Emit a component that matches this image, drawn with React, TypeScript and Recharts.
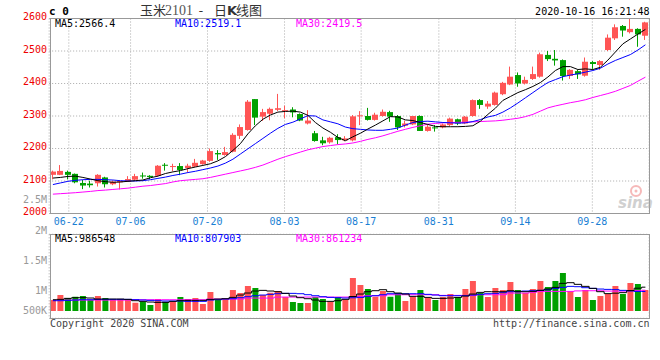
import { ComposedChart, Bar, Line, XAxis, YAxis, CartesianGrid, Cell } from 'recharts'

const RED = '#ff5555'
const GREEN = '#00a000'
const MONO = '"DejaVu Sans Mono", monospace'
const CJK = '"Noto Sans CJK SC", sans-serif'

const DATES = [
  '06-17', '06-18', '06-19', '06-22', '06-23', '06-24', '06-29', '06-30', '07-01', '07-02',
  '07-03', '07-06', '07-07', '07-08', '07-09', '07-10', '07-13', '07-14', '07-15', '07-16',
  '07-17', '07-20', '07-21', '07-22', '07-23', '07-24', '07-27', '07-28', '07-29', '07-30',
  '07-31', '08-03', '08-04', '08-05', '08-06', '08-07', '08-10', '08-11', '08-12', '08-13',
  '08-14', '08-17', '08-18', '08-19', '08-20', '08-21', '08-24', '08-25', '08-26', '08-27',
  '08-28', '08-31', '09-01', '09-02', '09-03', '09-04', '09-07', '09-08', '09-09', '09-10',
  '09-11', '09-14', '09-15', '09-16', '09-17', '09-18', '09-21', '09-22', '09-23', '09-24',
  '09-25', '09-28', '09-29', '09-30', '10-09', '10-12', '10-13', '10-14', '10-15', '10-16',
]

const OPEN = [
  2119, 2119, 2128, 2122, 2094, 2092, 2093, 2111, 2090, 2096,
  2098, 2104, 2117, 2116, 2116, 2150, 2143, 2146, 2140, 2144,
  2152, 2162, 2186, 2180, 2190, 2239, 2257, 2352, 2298, 2307,
  2319, 2315, 2320, 2306, 2277, 2247, 2225, 2219, 2235, 2225,
  2225, 2300, 2300, 2288, 2300, 2312, 2300, 2270, 2274, 2300,
  2254, 2265, 2265, 2272, 2290, 2277, 2300, 2349, 2329, 2334,
  2367, 2397, 2426, 2400, 2414, 2421, 2488, 2476, 2472, 2423,
  2438, 2424, 2466, 2457, 2503, 2539, 2577, 2558, 2568, 2547,
]
const HIGH = [
  2132, 2149, 2132, 2123, 2103, 2101, 2121, 2113, 2101, 2101,
  2115, 2122, 2126, 2118, 2149, 2155, 2153, 2155, 2153, 2168,
  2165, 2200, 2195, 2205, 2247, 2274, 2349, 2352, 2322, 2326,
  2368, 2332, 2327, 2308, 2318, 2254, 2236, 2236, 2244, 2238,
  2303, 2315, 2325, 2310, 2320, 2316, 2303, 2286, 2300, 2302,
  2272, 2272, 2277, 2295, 2292, 2300, 2351, 2352, 2346, 2375,
  2405, 2452, 2434, 2421, 2452, 2495, 2500, 2503, 2474, 2444,
  2442, 2480, 2469, 2472, 2551, 2582, 2580, 2600, 2570, 2590,
]
const LOW = [
  2105, 2118, 2105, 2093, 2075, 2080, 2083, 2080, 2087, 2074,
  2097, 2101, 2107, 2106, 2113, 2132, 2130, 2118, 2126, 2143,
  2150, 2159, 2165, 2178, 2188, 2229, 2255, 2272, 2285, 2287,
  2315, 2293, 2296, 2284, 2274, 2221, 2210, 2215, 2213, 2222,
  2222, 2272, 2286, 2286, 2298, 2282, 2257, 2265, 2272, 2254,
  2252, 2252, 2262, 2269, 2272, 2275, 2298, 2322, 2322, 2332,
  2364, 2395, 2390, 2397, 2411, 2418, 2469, 2455, 2409, 2414,
  2414, 2421, 2445, 2442, 2500, 2534, 2544, 2554, 2513, 2534,
]
const CLOSE = [
  2129, 2131, 2119, 2096, 2086, 2087, 2119, 2090, 2098, 2100,
  2106, 2115, 2114, 2112, 2147, 2147, 2146, 2134, 2147, 2156,
  2163, 2192, 2182, 2189, 2242, 2266, 2344, 2295, 2312, 2322,
  2324, 2318, 2311, 2286, 2286, 2223, 2216, 2233, 2226, 2231,
  2299, 2302, 2288, 2304, 2313, 2298, 2265, 2277, 2300, 2254,
  2267, 2262, 2274, 2292, 2277, 2298, 2349, 2334, 2338, 2372,
  2402, 2421, 2400, 2411, 2429, 2490, 2475, 2471, 2423, 2442,
  2428, 2467, 2460, 2469, 2541, 2573, 2563, 2568, 2551, 2588,
]

const MA5 = [
  2109, 2111, 2114, 2115, 2111, 2106, 2101, 2098, 2096, 2097,
  2099, 2101, 2103, 2110, 2115, 2123, 2128, 2132, 2138, 2143,
  2148, 2153, 2162, 2175, 2194, 2215, 2245, 2270, 2290, 2303,
  2312, 2314, 2315, 2312, 2302, 2280, 2263, 2250, 2234, 2224,
  2236, 2247, 2260, 2272, 2285, 2298, 2297, 2288, 2286, 2280,
  2274, 2268, 2267, 2267, 2267, 2268, 2270, 2284, 2305, 2324,
  2348, 2360, 2372, 2381, 2391, 2403, 2420, 2440, 2452, 2452,
  2443, 2445, 2443, 2450, 2472, 2497, 2522, 2537, 2552, 2566.4,
]
const MA10 = [
  2089, 2094, 2099, 2102, 2104, 2105, 2105, 2104, 2103, 2101,
  2100, 2100, 2101, 2104, 2108, 2112, 2117, 2121, 2126, 2130,
  2135, 2140, 2146, 2155, 2167, 2183, 2199, 2215, 2231, 2247,
  2262, 2274, 2281, 2291, 2301, 2300, 2288, 2282, 2276, 2266,
  2261, 2259, 2257, 2256, 2256, 2259, 2263, 2272, 2280, 2283,
  2284, 2282, 2280, 2279, 2278, 2279, 2283, 2289, 2297, 2302,
  2312, 2325, 2340, 2356, 2372, 2388, 2403, 2412, 2421, 2426,
  2430, 2435, 2440, 2447, 2460, 2471, 2480, 2489, 2503, 2519.1,
]
const MA30 = [
  2059.5, 2061, 2062.5, 2064, 2066, 2068, 2070.5, 2072, 2074, 2076,
  2078, 2081, 2084, 2086, 2089, 2092, 2097, 2101, 2103, 2105,
  2107, 2111, 2116, 2121, 2126, 2131, 2136, 2142, 2149, 2158,
  2167, 2175, 2182, 2189, 2196, 2201, 2206, 2209, 2212, 2214,
  2217, 2222, 2228, 2233, 2239, 2246, 2253, 2259, 2265, 2270,
  2275, 2277, 2279, 2280, 2280.5, 2281, 2282, 2283, 2284, 2285,
  2287, 2290, 2293, 2298, 2305, 2315, 2325, 2331, 2336, 2341,
  2345, 2350, 2357, 2363, 2369, 2376, 2385, 2394, 2407, 2419.5,
]

const VOLUME = [
  455000, 662000, 538000, 593000, 621000, 455000, 621000, 538000, 455000, 497000,
  455000, 345000, 386000, 248000, 497000, 386000, 386000, 580000, 497000, 538000,
  290000, 787000, 455000, 483000, 869000, 745000, 1035000, 952000, 662000, 759000,
  828000, 580000, 373000, 331000, 331000, 580000, 497000, 386000, 580000, 455000,
  1366000, 1076000, 911000, 593000, 828000, 593000, 745000, 414000, 580000, 869000,
  552000, 455000, 580000, 704000, 580000, 911000, 1242000, 745000, 580000, 952000,
  869000, 1201000, 869000, 745000, 911000, 1242000, 994000, 1242000, 1573000, 828000,
  580000, 869000, 455000, 621000, 704000, 1035000, 704000, 1159000, 1118000, 869000,
]
const VOL_MA5 = [
  468000, 482000, 523000, 551000, 551000, 537000, 495000, 495000, 495000, 495000,
  482000, 426000, 399000, 371000, 357000, 357000, 399000, 426000, 440000, 440000,
  440000, 482000, 495000, 509000, 564000, 661000, 744000, 827000, 854000, 827000,
  799000, 730000, 620000, 551000, 509000, 454000, 399000, 399000, 426000, 482000,
  600000, 702000, 799000, 840000, 882000, 799000, 744000, 702000, 606000, 606000,
  564000, 523000, 523000, 537000, 564000, 620000, 702000, 771000, 799000, 799000,
  799000, 840000, 813000, 799000, 813000, 854000, 909000, 978000, 1144000, 1172000,
  1103000, 1020000, 937000, 799000, 720000, 737000, 760000, 845000, 944000, 986548,
]
const VOL_MA10 = [
  426000, 426000, 440000, 454000, 468000, 468000, 482000, 482000, 482000, 482000,
  482000, 468000, 454000, 440000, 426000, 413000, 413000, 413000, 399000, 399000,
  399000, 454000, 468000, 495000, 509000, 551000, 592000, 633000, 661000, 689000,
  716000, 730000, 730000, 716000, 675000, 633000, 592000, 564000, 551000, 537000,
  548000, 564000, 606000, 633000, 675000, 716000, 716000, 716000, 716000, 716000,
  689000, 661000, 633000, 633000, 633000, 633000, 661000, 689000, 716000, 730000,
  758000, 799000, 799000, 827000, 840000, 854000, 882000, 937000, 978000, 1020000,
  1006000, 965000, 937000, 909000, 895000, 885000, 854000, 830000, 808000, 807903,
]
const VOL_MA30 = [
  440000, 452000, 452000, 452000, 452000, 452000, 452000, 452000, 452000, 452000,
  452000, 466000, 466000, 466000, 466000, 466000, 466000, 466000, 466000, 466000,
  466000, 494000, 494000, 494000, 494000, 494000, 535000, 535000, 535000, 535000,
  577000, 577000, 577000, 577000, 577000, 577000, 577000, 577000, 577000, 577000,
  590000, 604000, 632000, 632000, 632000, 673000, 673000, 673000, 673000, 673000,
  673000, 673000, 646000, 646000, 646000, 646000, 646000, 673000, 673000, 673000,
  673000, 742000, 742000, 742000, 775000, 811000, 811000, 811000, 811000, 811000,
  832000, 839000, 839000, 839000, 825000, 822000, 825000, 845000, 852000, 861234,
]

const PRICE_TICKS = [2000, 2100, 2200, 2300, 2400, 2500, 2600]
// where the dated grid lines sit, in candle-index units
const DATE_TICK_AT = [2.59, 10.72, 20.85, 30.99, 41.08, 51.31, 61.39, 71.52]
const DATE_TICK_LABELS = ['06-22', '07-06', '07-20', '08-03', '08-17', '08-31', '09-14', '09-28']

const rows = DATES.map((date, i) => ({
  date,
  open: OPEN[i],
  high: HIGH[i],
  low: LOW[i],
  close: CLOSE[i],
  range: [LOW[i], HIGH[i]],
  ma5: MA5[i],
  ma10: MA10[i],
  ma30: MA30[i],
  volume: VOLUME[i],
  vma5: VOL_MA5[i],
  vma10: VOL_MA10[i],
  vma30: VOL_MA30[i],
}))

const last = (a: number[]) => a[a.length - 1]

function Candle(props: any) {
  const { x, y, width, height, payload } = props
  if (x == null || y == null) return null
  const top = Math.min(y, y + height)
  const h = Math.abs(height)
  const span = payload.high - payload.low || 1
  const py = (v: number) => top + ((payload.high - v) / span) * h
  const color = payload.close >= payload.open ? RED : GREEN
  const left = Math.round(x + width / 2 - 3)
  const bTop = py(Math.max(payload.open, payload.close))
  const bBot = py(Math.min(payload.open, payload.close))
  return (
    <g>
      <line x1={left + 2.5} x2={left + 2.5} y1={top} y2={top + h} stroke={color} strokeWidth={1} />
      <rect x={left} y={bTop} width={6} height={Math.max(1, bBot - bTop)} fill={color} />
    </g>
  )
}

const PriceTick = ({ y, payload }: any) => (
  <text x={47} y={y + 1.5} textAnchor="end" fill="#ee0000" fontSize={10} fontFamily={MONO}>
    {payload.value}
  </text>
)

const DateTick = ({ x, index }: any) => (
  <text x={x} y={225} textAnchor="middle" fill="#1a7fd4" fontSize={10} fontFamily={MONO}>
    {DATE_TICK_LABELS[index]}
  </text>
)

const abs = { position: 'absolute' as const, left: 0, top: 0 }

export default function App() {
  return (
    <div style={{ ...abs, width: 660, height: 360, background: '#fff', overflow: 'hidden' }}>
      <div style={abs}>
        <ComposedChart width={660} height={360} data={rows}
          margin={{ top: 18.5, right: 10.85, left: 0, bottom: 128 }}>
          <XAxis xAxisId="cat" dataKey="date" hide />
          <XAxis xAxisId="grid" type="number" domain={[-0.5, 79.5]} allowDataOverflow
            ticks={DATE_TICK_AT} height={18.5} axisLine={false} tickLine={false}
            interval={0} tick={DateTick} />
          <YAxis yAxisId="price" domain={[2000, 2600]} allowDataOverflow ticks={PRICE_TICKS}
            width={49.15} axisLine={false} tickLine={false} interval={0} tick={PriceTick} />
          <CartesianGrid xAxisId="grid" yAxisId="price" stroke="#aaa" strokeDasharray="1 2" />
          <Bar xAxisId="cat" yAxisId="price" dataKey="range" shape={Candle} isAnimationActive={false} />
          <Line xAxisId="cat" yAxisId="price" dataKey="ma30" stroke="#ff00ff" strokeWidth={1} dot={false} isAnimationActive={false} />
          <Line xAxisId="cat" yAxisId="price" dataKey="ma10" stroke="#0000ff" strokeWidth={1} dot={false} isAnimationActive={false} />
          <Line xAxisId="cat" yAxisId="price" dataKey="ma5" stroke="#000000" strokeWidth={1} dot={false} isAnimationActive={false} />
        </ComposedChart>
      </div>
      <div style={abs}>
        <ComposedChart width={660} height={360} data={rows}
          margin={{ top: 234.3, right: 10.85, left: 49.15, bottom: 41.7 }}>
          <XAxis xAxisId="cat" dataKey="date" hide />
          <XAxis xAxisId="grid" type="number" domain={[-0.5, 79.5]} allowDataOverflow
            ticks={DATE_TICK_AT} height={0} axisLine={false} tickLine={false} tick={false} />
          <YAxis yAxisId="vol" domain={[-302000, 3175000]} allowDataOverflow hide />
          <YAxis yAxisId="vgrid" domain={[-0.15, 4.05]} allowDataOverflow ticks={[1, 2, 3]}
            width={0} axisLine={false} tickLine={false} tick={false} />
          <CartesianGrid xAxisId="grid" yAxisId="vgrid" stroke="#aaa" strokeDasharray="1 2" />
          <Bar xAxisId="cat" yAxisId="vol" dataKey="volume" isAnimationActive={false}>
            {rows.map((r, i) => (
              <Cell key={i} fill={r.close >= r.open ? RED : GREEN} />
            ))}
          </Bar>
          <Line xAxisId="cat" yAxisId="vol" type="step" dataKey="vma30" stroke="#ff00ff" strokeWidth={1} dot={false} isAnimationActive={false} />
          <Line xAxisId="cat" yAxisId="vol" type="step" dataKey="vma10" stroke="#0000ff" strokeWidth={1} dot={false} isAnimationActive={false} />
          <Line xAxisId="cat" yAxisId="vol" type="step" dataKey="vma5" stroke="#000000" strokeWidth={1} dot={false} isAnimationActive={false} />
        </ComposedChart>
      </div>
      <svg width={660} height={360} style={{ ...abs, pointerEvents: 'none' }}>
        <rect x={50.5} y={18.5} width={599} height={195} fill="none" stroke="#999" />
        <rect x={50.5} y={234.5} width={599} height={84} fill="none" stroke="#999" />

        <text x={49} y={15} fontSize={11} fontFamily={MONO} fontWeight="bold" fill="#000">c 0</text>
        <text y={15} fontSize={13} fill="#333">
          <tspan x={140} fontFamily={CJK}>玉米</tspan>
          <tspan x={165} fontFamily='"Liberation Serif", serif' fontSize={14} fill="#555">2101</tspan>
          <tspan x={197} fontFamily={MONO}>-</tspan>
          <tspan x={214} fontFamily={CJK}>日</tspan>
          <tspan x={227} fontFamily='"DejaVu Sans", sans-serif' fontWeight="bold">K</tspan>
          <tspan x={236} fontFamily={CJK}>线图</tspan>
        </text>
        <text x={649.5} y={15} textAnchor="end" fontSize={10} fontFamily={MONO} fill="#000">2020-10-16 16:21:48</text>

        <g fontSize={10} fontFamily={MONO}>
          <text x={55} y={26.7} fill="#000">MA5:{last(MA5)}</text>
          <text x={175} y={26.7} fill="#0000ff">MA10:{last(MA10)}</text>
          <text x={296} y={26.7} fill="#ff00ff">MA30:{last(MA30)}</text>
          <text x={47} y={203.3} textAnchor="end" fill="#999">2.5M</text>

          <text x={55} y={241.7} fill="#000">MA5:{last(VOL_MA5)}</text>
          <text x={175} y={241.7} fill="#0000ff">MA10:{last(VOL_MA10)}</text>
          <text x={296} y={241.7} fill="#ff00ff">MA30:{last(VOL_MA30)}</text>

          <text x={47} y={234} textAnchor="end" fill="#999">2M</text>
          <text x={47} y={264.3} textAnchor="end" fill="#999">1.5M</text>
          <text x={47} y={294} textAnchor="end" fill="#999">1M</text>
          <text x={47} y={314} textAnchor="end" fill="#999">500K</text>

          <text x={50} y={327} fill="#444">Copyright 2020 SINA.COM</text>
          <text x={649.5} y={327} textAnchor="end" fill="#444">http://finance.sina.com.cn</text>
        </g>

        <g opacity={0.55}>
          <circle cx={636} cy={191} r={5} fill="none" stroke="#f08080" strokeWidth={2} />
          <circle cx={636} cy={191} r={1.5} fill="#f08080" />
          <text x={618} y={208} fontSize={15} fontStyle="italic" fontWeight="bold"
            fontFamily='"DejaVu Sans", sans-serif' fill="#aaa">sina</text>
        </g>
      </svg>
    </div>
  )
}
